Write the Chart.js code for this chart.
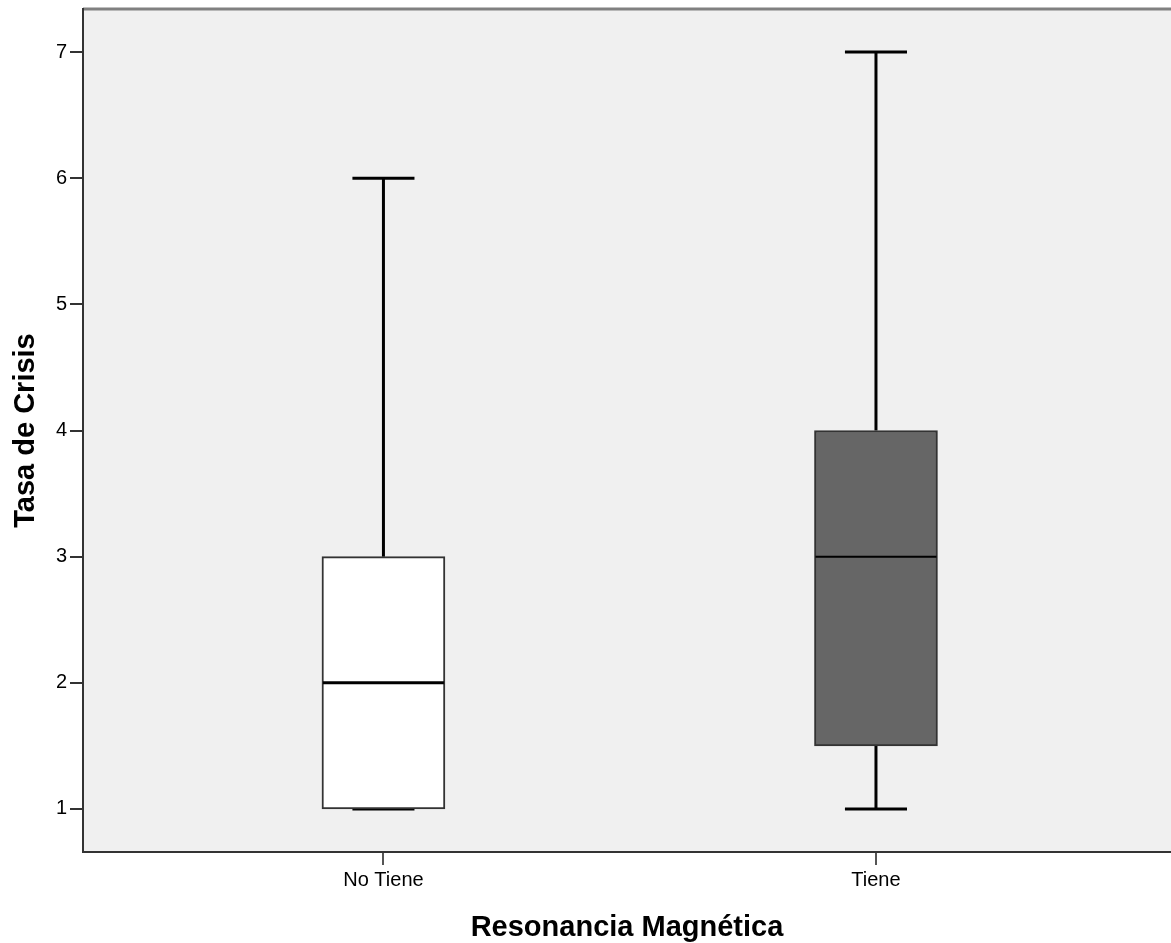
<!DOCTYPE html>
<html>
<head>
<meta charset="utf-8">
<script src="https://cdn.jsdelivr.net/npm/chart.js@4/dist/chart.umd.min.js"></script>
<style>
  html, body { margin: 0; padding: 0; background: #fff; }
  #wrap { width: 1171px; height: 943px; }
</style>
</head>
<body>
<div id="wrap"><canvas id="chart"></canvas></div>
<script>
// box plot summary per group
const categories = ['No Tiene', 'Tiene']
const minVals = [1, 1]
const q1Vals = [1, 1.5]
const medianVals = [2, 3]
const q3Vals = [3, 4]
const maxVals = [6, 7]
const yTicks = [1, 2, 3, 4, 5, 6, 7]

const boxFill = ['#ffffff', '#666666']
const medianWidth = [3, 2]
const fontFamily = "'Liberation Sans', Arial, sans-serif"

// plot panel background and the grey top rule
const panelPlugin = {
  id: 'panel',
  beforeDraw(chart) {
    let {ctx, chartArea: a} = chart
    ctx.save()
    ctx.fillStyle = '#f0f0f0'
    ctx.fillRect(a.left, a.top, a.right - a.left, a.bottom - a.top)
    ctx.strokeStyle = '#808080'
    ctx.lineWidth = 3
    ctx.beginPath()
    ctx.moveTo(a.left, a.top)
    ctx.lineTo(a.right, a.top)
    ctx.stroke()
    ctx.restore()
  },
}

// whiskers go under the boxes, medians on top
const whiskerPlugin = {
  id: 'whiskers',
  beforeDatasetsDraw(chart) {
    let {ctx, scales: {x, y}} = chart
    ctx.save()
    ctx.strokeStyle = '#000'
    ctx.lineWidth = 3
    categories.forEach((c, i) => {
      let cx = x.getPixelForValue(i)
      let half = (x.getPixelForValue(1) - x.getPixelForValue(0)) * 0.063
      let segs = [[q3Vals[i], maxVals[i]], [q1Vals[i], minVals[i]]]
      for (let [from, to] of segs) {
        ctx.beginPath()
        ctx.moveTo(cx, y.getPixelForValue(from))
        ctx.lineTo(cx, y.getPixelForValue(to))
        ctx.stroke()
        ctx.beginPath()
        ctx.moveTo(cx - half, y.getPixelForValue(to))
        ctx.lineTo(cx + half, y.getPixelForValue(to))
        ctx.stroke()
      }
    })
    ctx.restore()
  },
  afterDatasetsDraw(chart) {
    let {ctx, scales: {y}} = chart
    let meta = chart.getDatasetMeta(0)
    ctx.save()
    ctx.strokeStyle = '#000'
    meta.data.forEach((bar, i) => {
      let w = bar.width / 2
      let py = y.getPixelForValue(medianVals[i])
      ctx.lineWidth = medianWidth[i]
      ctx.beginPath()
      ctx.moveTo(bar.x - w + 1, py)
      ctx.lineTo(bar.x + w - 1, py)
      ctx.stroke()
    })
    ctx.restore()
  },
}

new Chart(document.getElementById('chart'), {
  type: 'bar',
  data: {
    datasets: [{
      label: 'Tasa de Crisis',
      data: categories.map((c, i) => ({x: i, y: [q1Vals[i], q3Vals[i]]})),
      backgroundColor: boxFill,
      borderColor: '#333333',
      borderWidth: 2,
      borderSkipped: false,
      barThickness: 123,
    }],
  },
  options: {
    responsive: true,
    maintainAspectRatio: false,
    animation: false,
    layout: {padding: {top: 9, right: 0, left: 0, bottom: 0}},
    plugins: {
      legend: {display: false},
      tooltip: {enabled: false},
    },
    scales: {
      x: {
        type: 'linear',
        offset: false,
        min: -0.61,
        max: 1.599,
        afterBuildTicks: (axis) => { axis.ticks = categories.map((c, i) => ({value: i})) },
        afterFit: (axis) => {
          axis.height = 91
          axis.paddingLeft = 0
          axis.paddingRight = 0
        },
        grid: {
          offset: false,
          drawOnChartArea: false,
          drawTicks: true,
          tickLength: 13,
          color: '#555555',
          lineWidth: 2,
        },
        border: {display: true, color: '#333333', width: 2},
        ticks: {
          autoSkip: false,
          maxRotation: 0,
          padding: 3,
          color: '#000',
          font: {family: fontFamily, size: 20},
          callback: (v) => categories[v],
        },
        title: {
          display: true,
          text: 'Resonancia Magnética',
          color: '#000',
          font: {family: fontFamily, size: 29, weight: 'bold', lineHeight: 1},
          padding: {top: 0, bottom: 1},
        },
      },
      y: {
        min: 0.659,
        max: 7.341,
        afterBuildTicks: (axis) => { axis.ticks = yTicks.map((v) => ({value: v})) },
        afterFit: (axis) => {
          axis.width = 83
          axis.paddingTop = 0
          axis.paddingBottom = 0
        },
        grid: {
          drawOnChartArea: false,
          drawTicks: true,
          tickLength: 13,
          color: '#333333',
          lineWidth: 2,
        },
        border: {display: true, color: '#333333', width: 2},
        ticks: {
          padding: 3,
          color: '#000',
          font: {family: fontFamily, size: 20},
        },
        title: {
          display: true,
          text: 'Tasa de Crisis',
          color: '#000',
          font: {family: fontFamily, size: 29, weight: 'bold', lineHeight: 1},
          padding: {top: 11, bottom: 0},
        },
      },
    },
  },
  plugins: [panelPlugin, whiskerPlugin],
})
</script>
</body>
</html>
